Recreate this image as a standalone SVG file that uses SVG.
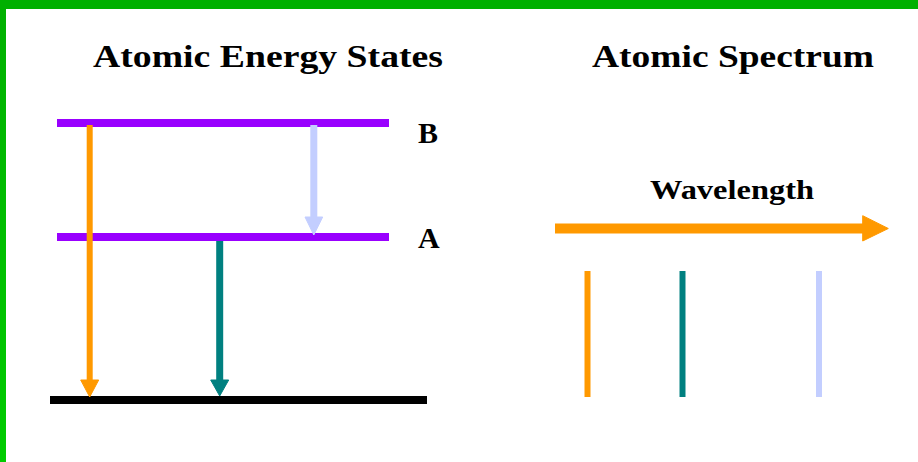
<svg xmlns="http://www.w3.org/2000/svg" width="918" height="462" viewBox="0 0 918 462">
  <style>
    .title { font-family: "Liberation Serif", "Times New Roman", serif; font-weight: bold; font-size: 32px; fill: #000; }
    .lbl { font-family: "Liberation Serif", "Times New Roman", serif; font-weight: bold; font-size: 30px; fill: #000; }
    .wl { font-family: "Liberation Serif", "Times New Roman", serif; font-weight: bold; font-size: 27px; fill: #000; }
    .level { stroke: #9900FF; stroke-width: 8; }
    .ground { stroke: #000; stroke-width: 8; }
    .orange { stroke: #FF9900; fill: #FF9900; }
    .teal { stroke: #008080; fill: #008080; }
    .lblue { stroke: #C3CEFF; fill: #C3CEFF; }
  </style>
  <defs>
    <linearGradient id="lg" x1="0" y1="0" x2="0" y2="1">
      <stop offset="0" stop-color="#00B000"/>
      <stop offset="1" stop-color="#00CC00"/>
    </linearGradient>
  </defs>
  <rect x="0" y="0" width="918" height="462" fill="#FFFFFF"/>
  <rect x="0" y="0" width="6" height="462" fill="url(#lg)"/>
  <rect x="0" y="0" width="918" height="9" fill="#00B000"/>

  <g id="title-states"><text class="title" x="93" y="67" textLength="350" lengthAdjust="spacingAndGlyphs">Atomic Energy States</text></g>
  <g id="title-spectrum"><text class="title" x="592" y="67" textLength="282" lengthAdjust="spacingAndGlyphs">Atomic Spectrum</text></g>

  <g id="level-B">
    <line class="level" x1="57" y1="123" x2="389" y2="123"/>
    <text class="lbl" x="418" y="143">B</text>
  </g>
  <g id="level-A">
    <line class="level" x1="57" y1="237" x2="389" y2="237"/>
    <text class="lbl" x="418" y="248">A</text>
  </g>
  <g id="ground">
    <line class="ground" x1="50" y1="400" x2="427" y2="400"/>
  </g>

  <g id="connectors">
    <line class="orange" x1="89.7" y1="125" x2="89.7" y2="382" stroke-width="6"/>
    <polygon class="orange" stroke="none" points="80.7,380 98.7,380 89.7,397"/>
    <line class="teal" x1="219.7" y1="241" x2="219.7" y2="382" stroke-width="7"/>
    <polygon class="teal" stroke="none" points="210.7,380 228.7,380 219.7,396"/>
    <line class="lblue" x1="313.8" y1="125" x2="313.8" y2="219" stroke-width="7"/>
    <polygon class="lblue" stroke="none" points="305,217 322.7,217 313.8,235"/>
  </g>

  <g id="wavelength">
    <text class="wl" x="650" y="199" textLength="164" lengthAdjust="spacingAndGlyphs">Wavelength</text>
    <line class="orange" x1="555" y1="228.5" x2="864" y2="228.5" stroke-width="10"/>
    <polygon class="orange" stroke="none" points="862.7,215.7 888.3,228.5 862.7,241"/>
  </g>

  <g id="spectrum-lines">
    <line class="orange" x1="587.5" y1="271" x2="587.5" y2="397" stroke-width="6"/>
    <line class="teal" x1="682.5" y1="271" x2="682.5" y2="397" stroke-width="6"/>
    <line class="lblue" x1="819" y1="271" x2="819" y2="397" stroke-width="6"/>
  </g>
</svg>
